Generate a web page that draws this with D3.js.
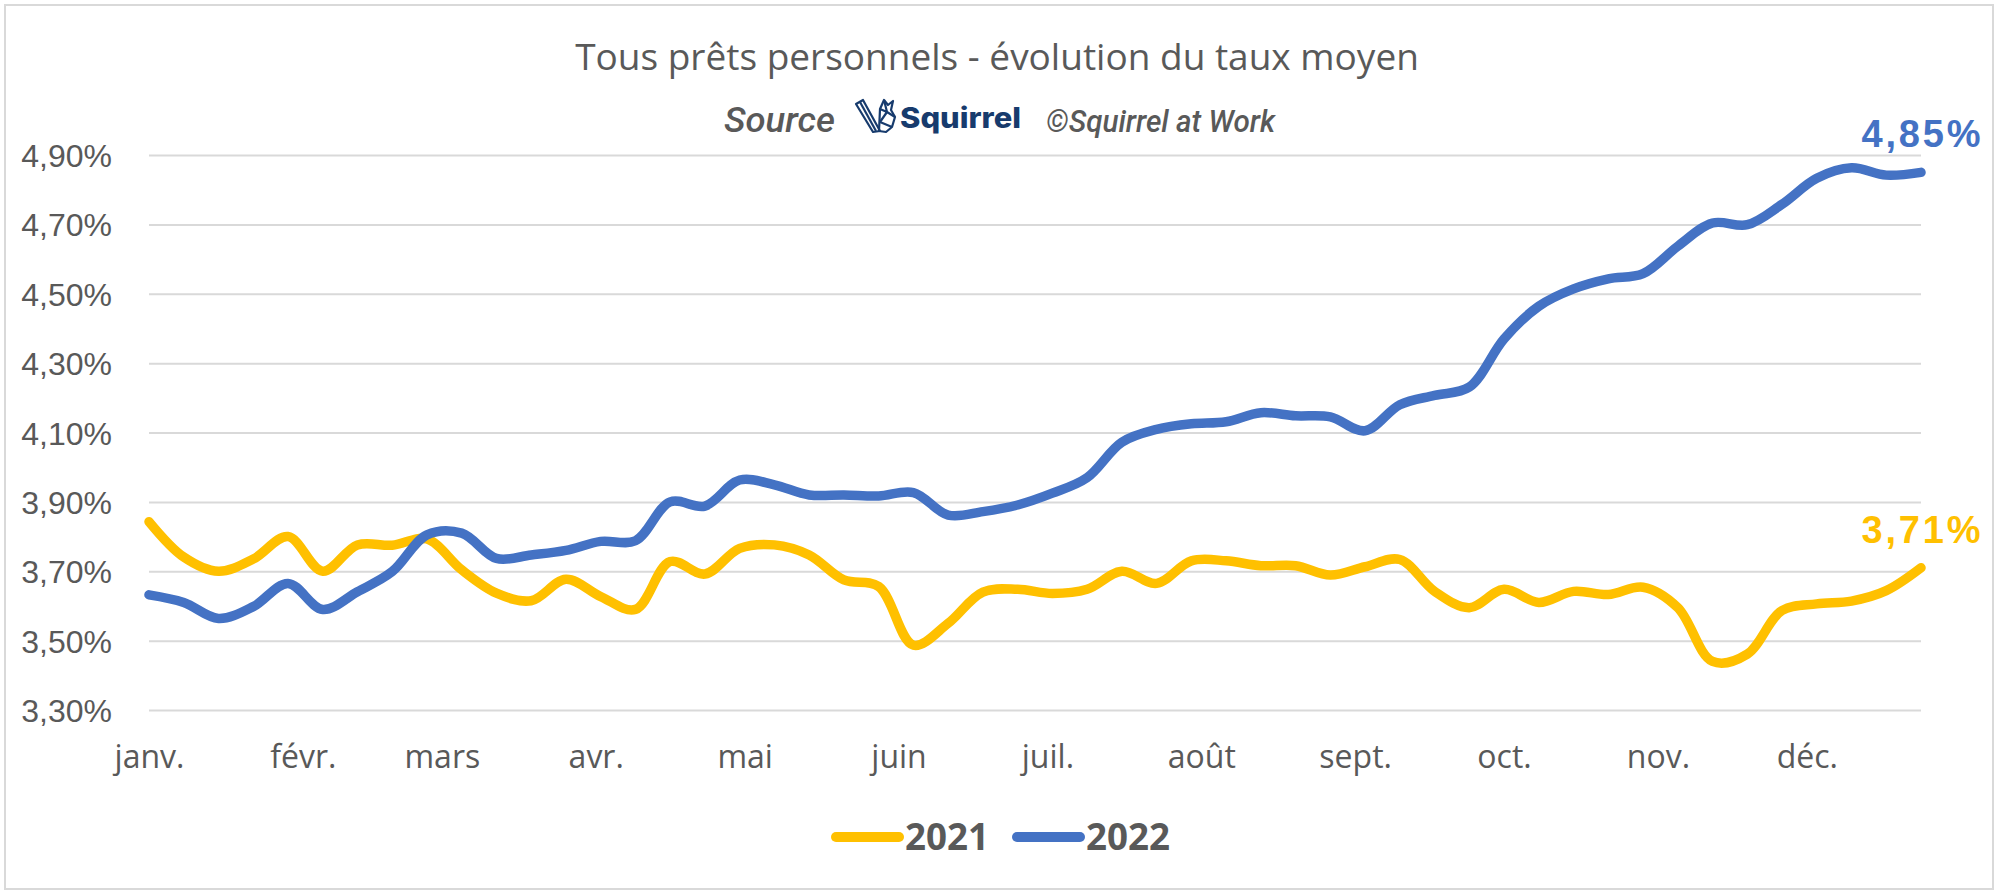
<!DOCTYPE html>
<html><head><meta charset="utf-8">
<script src="https://cdn.jsdelivr.net/npm/d3@7"></script>
<style>body{margin:0;background:#fff}</style>
</head><body>
<svg id="chart" width="2000" height="894"></svg>
<script>
// ---- data ----
const weekDates = ["2022-01-01","2022-01-08","2022-01-15","2022-01-22","2022-01-29",
  "2022-02-05","2022-02-12","2022-02-19","2022-02-26",
  "2022-03-05","2022-03-12","2022-03-19","2022-03-26",
  "2022-04-02","2022-04-09","2022-04-16","2022-04-23","2022-04-30",
  "2022-05-07","2022-05-14","2022-05-21","2022-05-28",
  "2022-06-04","2022-06-11","2022-06-18","2022-06-25",
  "2022-07-02","2022-07-09","2022-07-16","2022-07-23","2022-07-30",
  "2022-08-06","2022-08-13","2022-08-20","2022-08-27",
  "2022-09-03","2022-09-10","2022-09-17","2022-09-24",
  "2022-10-01","2022-10-08","2022-10-15","2022-10-22","2022-10-29",
  "2022-11-05","2022-11-12","2022-11-19","2022-11-26",
  "2022-12-03","2022-12-10","2022-12-17","2022-12-24"];
const monthDates = ["2022-01-01","2022-02-01","2022-03-01","2022-04-01","2022-05-01","2022-06-01",
  "2022-07-01","2022-08-01","2022-09-01","2022-10-01","2022-11-01","2022-12-01"];
const monthLabels = ["janv.","févr.","mars","avr.","mai","juin","juil.","août","sept.","oct.","nov.","déc."];
const yTicks = [3.3,3.5,3.7,3.9,4.1,4.3,4.5,4.7,4.9];
const seriesNames = ["2021","2022"];
const values2021 = [3.843,3.741,3.700,3.735,3.800,3.700,3.776,3.775,3.793,3.704,
  3.637,3.615,3.677,3.627,3.590,3.728,3.692,3.766,3.776,3.747,
  3.675,3.656,3.487,3.550,3.640,3.648,3.636,3.648,3.700,3.665,
  3.730,3.730,3.716,3.716,3.689,3.713,3.734,3.642,3.595,3.648,
  3.610,3.642,3.633,3.654,3.595,3.440,3.461,3.587,3.606,3.614,
  3.644,3.710];
const values2022 = [3.632,3.610,3.564,3.598,3.665,3.590,3.641,3.699,3.805,3.810,
  3.737,3.747,3.760,3.786,3.788,3.900,3.888,3.963,3.949,3.920,
  3.920,3.917,3.927,3.862,3.872,3.891,3.925,3.970,4.072,4.109,
  4.125,4.131,4.157,4.148,4.145,4.105,4.180,4.207,4.231,4.370,
  4.464,4.514,4.543,4.558,4.637,4.704,4.699,4.758,4.833,4.863,
  4.842,4.850];
const colors = ["#FFC000","#4472C4"];

// ---- chart ----
const parse = d3.timeParse("%Y-%m-%d");
const dates = weekDates.map(parse);
const svg = d3.select("#chart");
const textColor = "#595959";

svg.append("rect").attr("x",0).attr("y",0).attr("width",2000).attr("height",894).attr("fill","#fff");
svg.append("rect").attr("x",5).attr("y",5).attr("width",1988).attr("height",884)
  .attr("fill","none").attr("stroke","#D9D9D9").attr("stroke-width",2);

const x = d3.scaleTime().domain([dates[0], dates[dates.length-1]]).range([149,1921]);
const y = d3.scaleLinear().domain([3.3,4.9]).range([710,155]);

const fmt = v => d3.format(".2f")(v).replace(".", ",") + "%";

// y axis + gridlines
const gy = svg.append("g").attr("transform","translate(149,0)")
  .call(d3.axisLeft(y).tickValues(yTicks).tickSize(-(1921-149)).tickPadding(37).tickFormat(fmt));
gy.select(".domain").remove();
gy.selectAll(".tick line").attr("stroke","#D9D9D9").attr("stroke-width",2);
gy.selectAll(".tick text").attr("fill",textColor)
  .style("font-family","'Liberation Sans', Arial, sans-serif").style("font-size","32px")
  .attr("dy","0.36em");

// x axis
const gx = svg.append("g").attr("transform","translate(0,710)")
  .call(d3.axisBottom(x).tickValues(monthDates.map(parse)).tickSize(0)
    .tickFormat((d,i) => monthLabels[i]));
gx.select(".domain").remove();
gx.selectAll(".tick text").attr("fill",textColor).attr("y",58).attr("dy",0)
  .style("font-family","'Open Sans', sans-serif").style("font-size","32px");

// lines
const line = d3.line().x((d,i) => x(dates[i])).y(d => y(d)).curve(d3.curveCatmullRom.alpha(0.5));
[values2021, values2022].forEach((vals, si) => {
  svg.append("path").datum(vals).attr("d", line)
    .attr("fill","none").attr("stroke",colors[si]).attr("stroke-width",9.5)
    .attr("stroke-linecap","round").attr("stroke-linejoin","round");
});

// end labels
[values2021, values2022].forEach((vals, si) => {
  const last = vals[vals.length-1];
  svg.append("text").attr("x", x(dates[dates.length-1])).attr("y", y(last) - 25)
    .attr("text-anchor","middle").attr("fill",colors[si])
    .attr("textLength",119).attr("lengthAdjust","spacing")
    .style("font-family","'Liberation Sans', Arial, sans-serif").style("font-weight","bold")
    .style("font-size","38px").text(fmt(last));
});

// title
svg.append("text").attr("x",997).attr("y",70).attr("text-anchor","middle").attr("fill",textColor)
  .style("font-family","'Open Sans', sans-serif").style("font-size","37px")
  .text("Tous prêts personnels - évolution du taux moyen");

// source line
svg.append("text").attr("x",724).attr("y",132).attr("fill",textColor)
  .attr("textLength",111).attr("lengthAdjust","spacingAndGlyphs")
  .style("font-family","Roboto, sans-serif").style("font-style","italic").style("font-weight","500")
  .style("font-size","35px").text("Source");
svg.append("text").attr("x",1046).attr("y",132).attr("fill",textColor)
  .attr("textLength",229).attr("lengthAdjust","spacingAndGlyphs")
  .style("font-family","Roboto, sans-serif").style("font-style","italic").style("font-weight","500")
  .style("font-size","31px").text("©Squirrel at Work");

// logo
const navy = "#173B6D";
const logo = svg.append("g").attr("fill","none").attr("stroke",navy).attr("stroke-width",2.2)
  .attr("stroke-linejoin","round");
logo.append("path").attr("d","M856,104 L863,100 L880,131 L873,132 Z");
logo.append("path").attr("d","M860,102 L876,131");
logo.append("path").attr("d","M880,109 L884,100 L888,105 L893,101 L891,110 L895,117 L892,127 L886,132 L879,131 Z");
logo.append("path").attr("d","M884,100 L887,112 L895,117 M887,112 L880,122 L892,127 M880,109 L887,112");
svg.append("text").attr("x",900).attr("y",128).attr("fill",navy)
  .attr("textLength",121).attr("lengthAdjust","spacingAndGlyphs")
  .style("font-family","Inter, sans-serif").style("font-weight","800").style("font-size","28px")
  .text("Squirrel");

// legend
const legendX = [836, 1017];
seriesNames.forEach((name, si) => {
  svg.append("line").attr("x1",legendX[si]).attr("x2",legendX[si]+63).attr("y1",837).attr("y2",837)
    .attr("stroke",colors[si]).attr("stroke-width",10).attr("stroke-linecap","round");
  svg.append("text").attr("x",legendX[si]+69).attr("y",850).attr("fill",textColor)
    .attr("textLength",84).attr("lengthAdjust","spacingAndGlyphs")
    .style("font-family","'Open Sans', sans-serif").style("font-weight","700").style("font-size","37px")
    .text(name);
});
</script>
</body></html>
